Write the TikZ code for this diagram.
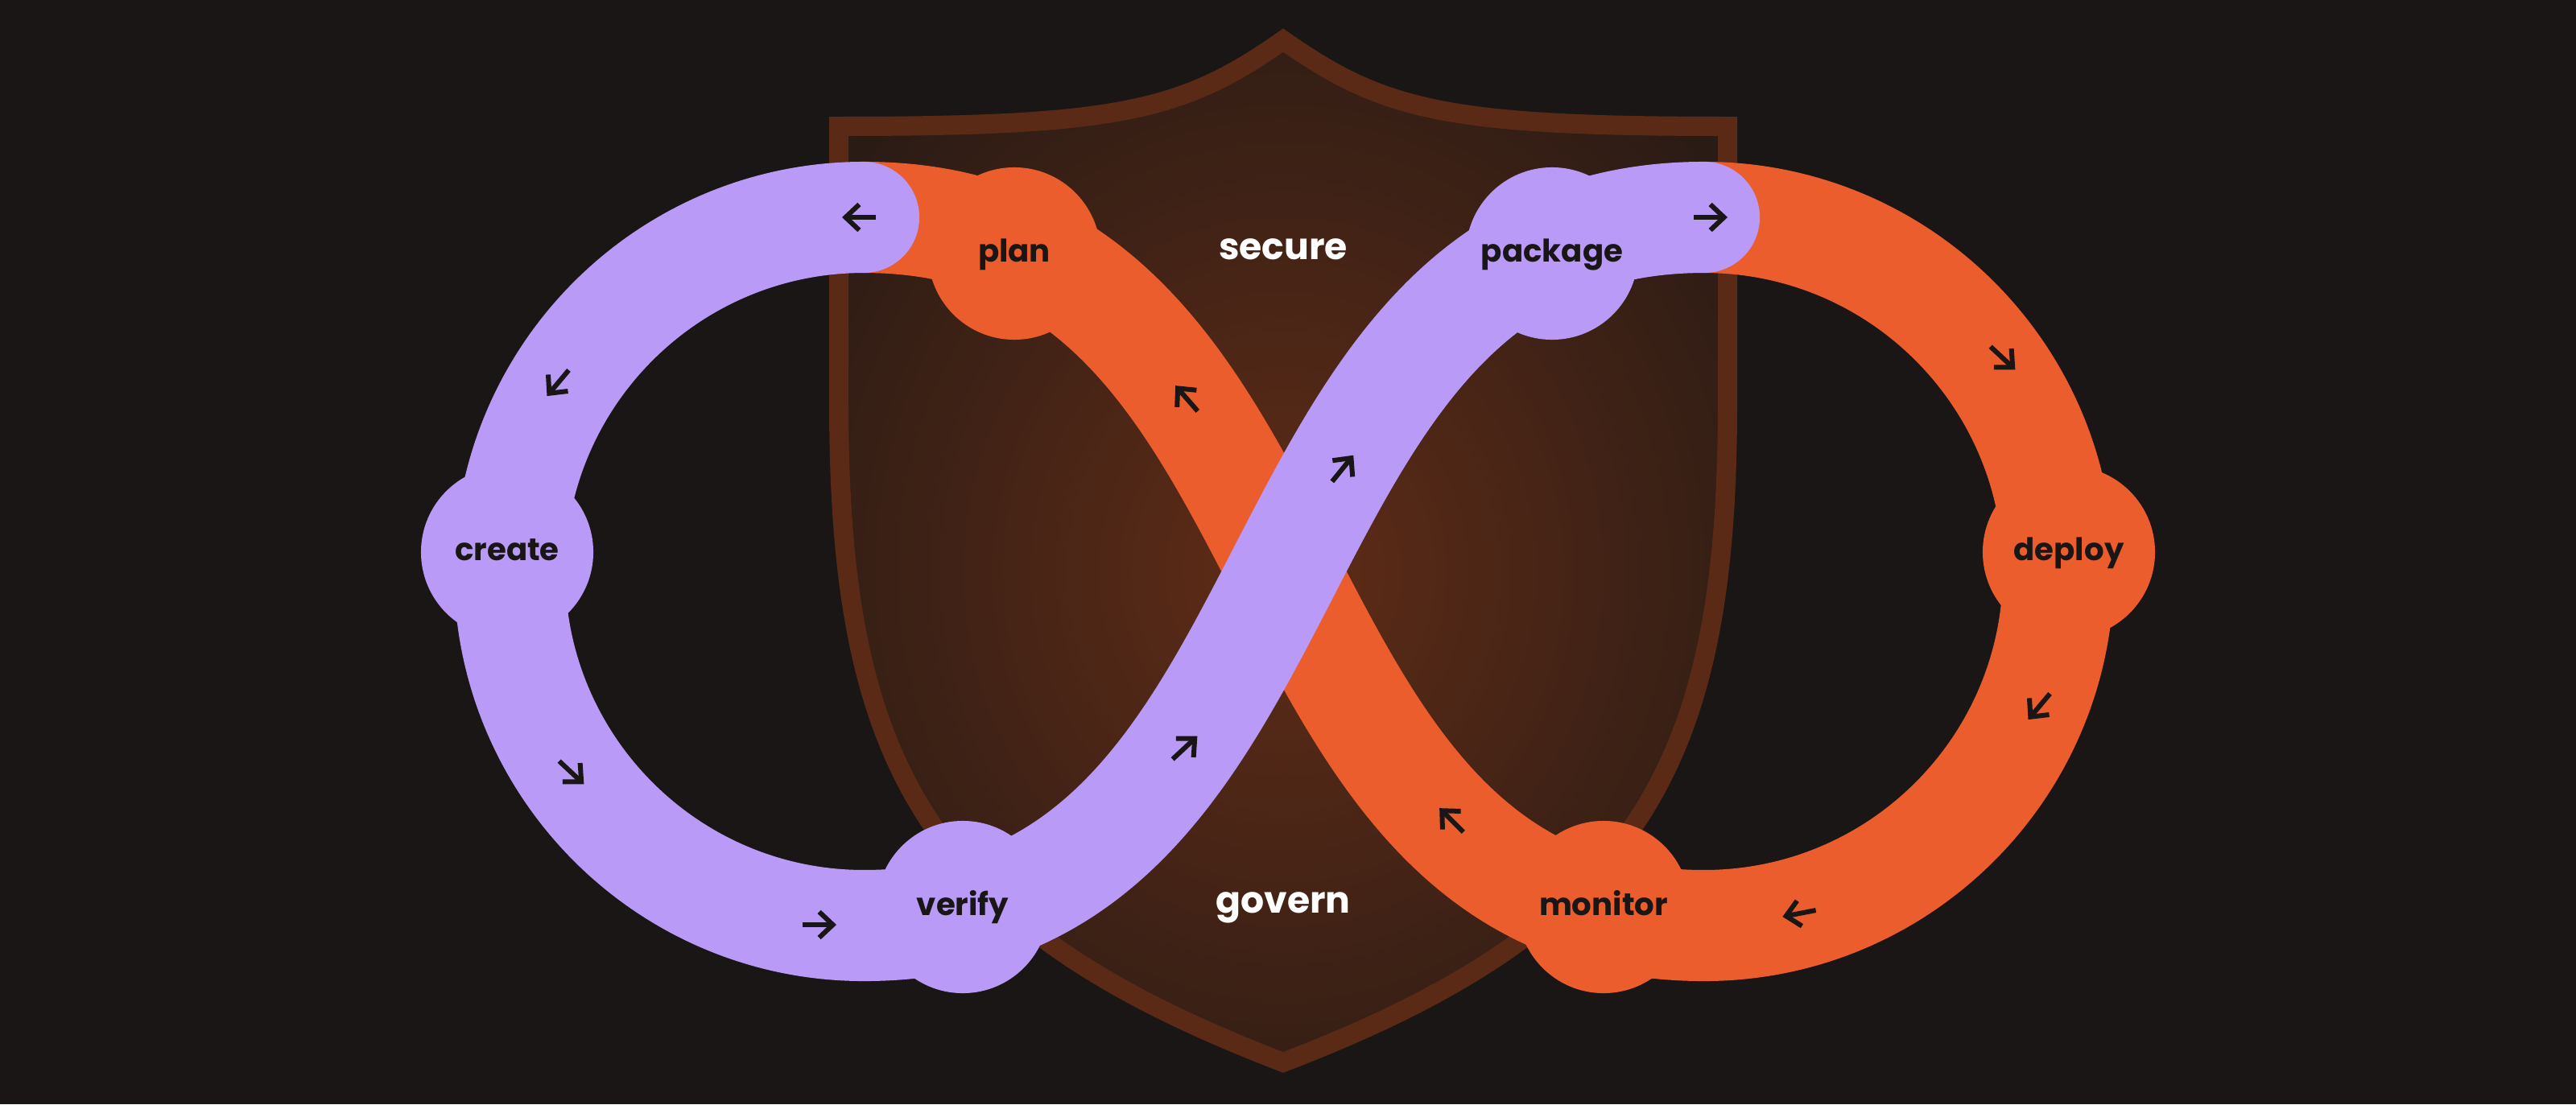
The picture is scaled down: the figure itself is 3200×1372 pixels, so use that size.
\documentclass[tikz,border=0pt]{standalone}
\usepackage{fontspec}
\setmainfont{Poppins}
\usetikzlibrary{arrows.meta}

\definecolor{night}{HTML}{1A1615}
\definecolor{lilac}{HTML}{BA9AF7}
\definecolor{ember}{HTML}{EB5D2D}
\definecolor{rust}{HTML}{5B2A17}
\definecolor{glow}{HTML}{602C16}

\tikzset{
  band/.style={line width=1.38cm},
  stage/.style={circle, minimum size=2.14cm, inner sep=0pt, text=night,
    text height=6.2pt, text depth=0pt, font=\bfseries\fontsize{11}{13}\selectfont},
  motto/.style={inner sep=0pt, text=white, text height=7.2pt, text depth=0pt,
    font=\bfseries\fontsize{13}{15}\selectfont},
  flowtip/.style={draw=night, line width=0.06cm,
    -{Straight Barb[length=0.17cm, width=0.32cm]}}
}

\begin{document}
\begin{tikzpicture}[x=0.01cm, y=-0.01cm]
                % Fond et cadre de l'image
                \fill[night] (0,0) rectangle (3200,1372);
                \useasboundingbox (0,0) rectangle (3200,1372);

                % Bouclier
                \draw[rust, line width=0.24cm, miter limit=20,
                  path picture={\shade[inner color=glow, outer color=night]
                    (1594,710) ellipse [x radius=920, y radius=1020];}]
                  (1042,157) -- (1042,500) .. controls (1042,950) and (1150,1150) .. (1594,1320)
                  .. controls (2038,1150) and (2146,950) .. (2146,500) -- (2146,157)
                  .. controls (1796,157) and (1718,137) .. (1594,50)
                  .. controls (1470,137) and (1392,157) .. (1042,157) -- cycle;

                % Extremites hautes des deux boucles
                \coordinate (ltop) at (1073,270);
                \coordinate (rtop) at (2117,270);

                % Boucle orange (dessous)
                \draw[band, ember] (rtop) arc[start angle=-90, end angle=90, radius=440]
                  .. controls (1528,1150) and (1662,270) .. (ltop);
                \node[stage, fill=ember] (plan) at (1260,315) {plan};
                \node[stage, fill=ember] (deploy) at (2570,686) {deploy};
                \node[stage, fill=ember] (monitor) at (1992,1127) {monitor};

                % Boucle violette (dessus)
                \draw[band, lilac, line cap=round] (ltop) arc[start angle=-90, end angle=-270, radius=440]
                  .. controls (1662,1150) and (1528,270) .. (rtop);
                \node[stage, fill=lilac] (create) at (630,686) {create};
                \node[stage, fill=lilac] (verify) at (1196,1127) {verify};
                \node[stage, fill=lilac] (package) at (1928,315) {package};

                % Textes du bouclier
                \node[motto] (secure) at (1594,310) {secure};
                \node[motto] (govern) at (1594,1122) {govern};

                % Petites fleches de sens
                \draw[flowtip] (1067,270) ++(180:-21) -- ++(180:42);
                \draw[flowtip] (693,476) ++(130:-21) -- ++(130:42);
                \draw[flowtip] (710,960) ++(43:-21) -- ++(43:42);
                \draw[flowtip] (1018,1149) ++(0:-21) -- ++(0:42);
                \draw[flowtip] (1472,929) ++(-43:-21) -- ++(-43:42);
                \draw[flowtip] (1668,582) ++(-51:-21) -- ++(-51:42);
                \draw[flowtip] (2125,270) ++(0:-21) -- ++(0:42);
                \draw[flowtip] (2488,445) ++(43:-21) -- ++(43:42);
                \draw[flowtip] (2533,878) ++(130:-21) -- ++(130:42);
                \draw[flowtip] (2235,1135) ++(169:-21) -- ++(169:42);
                \draw[flowtip] (1803,1019) ++(-135:-21) -- ++(-135:42);
                \draw[flowtip] (1474,495) ++(-131:-21) -- ++(-131:42);
\end{tikzpicture}
\end{document}
